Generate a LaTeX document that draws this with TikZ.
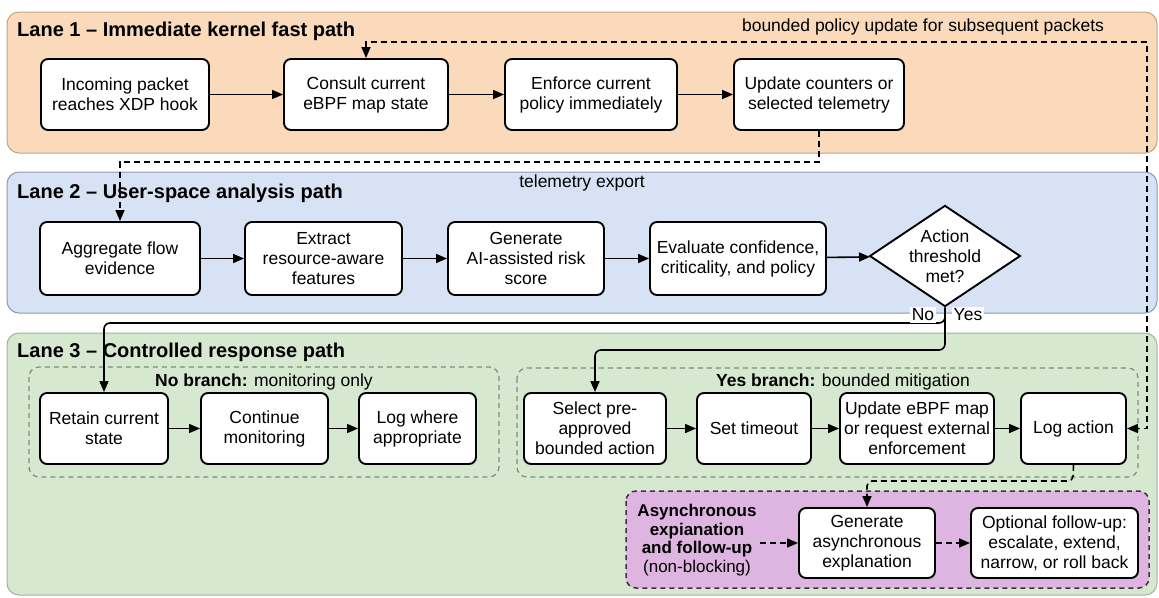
\documentclass[tikz,border=0pt]{standalone}
\usepackage{fontspec}
\setmainfont{Liberation Sans}
\usetikzlibrary{arrows.meta,shapes.geometric}
\definecolor{laneA}{RGB}{250,218,186}
\definecolor{laneAb}{RGB}{190,165,135}
\definecolor{laneB}{RGB}{215,227,244}
\definecolor{laneBb}{RGB}{140,155,180}
\definecolor{laneC}{RGB}{214,232,208}
\definecolor{laneCb}{RGB}{160,178,155}
\definecolor{grpgray}{RGB}{125,140,120}
\definecolor{asyfill}{RGB}{222,181,224}
\definecolor{asyborder}{RGB}{75,40,78}
\begin{document}
\begin{tikzpicture}[x=1pt,y=-1pt,
  box/.style={draw=black, line width=1.9pt, rounded corners=7pt, fill=white, align=center, inner sep=0pt, font=\fontsize{17.5}{20}\selectfont},
  wh/.style 2 args={minimum width=#1pt, minimum height=#2pt},
  conn/.style={line width=1.6pt, -{Triangle[length=11pt,width=9pt]}},
  dconn/.style={conn, dash pattern=on 6pt off 4pt},
  lane/.style={rounded corners=12pt, line width=1pt},
  grp/.style={rounded corners=10pt, dash pattern=on 5pt off 4pt, line width=1.2pt, draw=grpgray},
  ttl/.style={anchor=west, font=\fontsize{20}{24}\selectfont\bfseries, inner sep=0pt},
  lbl/.style={font=\fontsize{17.5}{20}\selectfont, inner sep=0pt}
]
\useasboundingbox (0,0) rectangle (1159,597);

% lanes
\draw[lane, fill=laneA, draw=laneAb] (7,12) rectangle (1157,153);
\draw[lane, fill=laneB, draw=laneBb] (7,172) rectangle (1157,313);
\draw[lane, fill=laneC, draw=laneCb] (7,333) rectangle (1157,595);

% groups
\draw[grp] (29,367) rectangle (499,477);
\draw[grp] (517,368) rectangle (1138,477);
\draw[rounded corners=10pt, dash pattern=on 5pt off 4pt, line width=1.5pt, draw=asyborder, fill=asyfill] (626,491) rectangle (1149,588);

% titles
\node[ttl] (t1) at (17,31) {Lane 1 -- Immediate kernel fast path};
\node[ttl] (t2) at (17,193) {Lane 2 -- User-space analysis path};
\node[ttl] (t3) at (17,352) {Lane 3 -- Controlled response path};

\node[lbl] (fbl) at (923,27) {bounded policy update for subsequent packets};
\node[lbl] (tell) at (582,183) {telemetry export};
\node[lbl] (nol) at (264,382) {\textbf{No branch:} monitoring only};
\node[lbl] (yesl) at (843,382) {\textbf{Yes branch:} bounded mitigation};

% lane 1
\node[box, wh={168}{71}] (in1) at (125,94.5) {Incoming packet\\reaches XDP hook};
\node[box, wh={164}{71}] (cons) at (366,94.5) {Consult current\\eBPF map state};
\node[box, wh={172}{71}] (enf) at (591,94.5) {Enforce current\\policy immediately};
\node[box, wh={170}{71}] (upd) at (819,94.5) {Update counters or\\selected telemetry};

% lane 2
\node[box, wh={160}{73}] (agg) at (120,258.5) {Aggregate flow\\evidence};
\node[box, wh={157}{73}] (ext) at (323.5,258.5) {Extract\\resource-aware\\features};
\node[box, wh={156}{73}] (gen) at (526,258.5) {Generate\\AI-assisted risk\\score};
\node[box, wh={176}{73}] (eva) at (738,258.5) {Evaluate confidence,\\criticality, and policy};
\node[diamond, draw=black, line width=1.9pt, fill=white, align=center, inner sep=0pt, aspect=1.49, wh={143}{96}, font=\fontsize{17.5}{20}\selectfont] (dia) at (945,256) {Action\\threshold\\met?};

% lane 3
\node[box, wh={128}{71}] (ret) at (104,428.5) {Retain current\\state};
\node[box, wh={127}{71}] (cont) at (264.5,428.5) {Continue\\monitoring};
\node[box, wh={117}{71}] (logw) at (417.5,428.5) {Log where\\appropriate};
\node[box, wh={142}{71}] (sel) at (595,428.5) {Select pre-\\approved\\bounded action};
\node[box, wh={114}{71}] (setto) at (754,428.5) {Set timeout};
\node[box, wh={154}{71}] (upe) at (917,428.5) {Update eBPF map\\or request external\\enforcement};
\node[box, wh={105}{71}] (loga) at (1073.5,428.5) {Log action};

% async
\node[align=center, inner sep=3pt, font=\fontsize{17}{18.8}\selectfont] (asy) at (697,540) {\textbf{Asynchronous}\\\textbf{expianation}\\\textbf{and follow-up}\\(non-blocking)};
\node[box, wh={136}{70}] (gena) at (867,543) {Generate\\asynchronous\\explanation};
\node[box, wh={167}{70}] (opt) at (1054.5,543) {Optional follow-up:\\escalate, extend,\\narrow, or roll back};

% connectors lane 1
\draw[conn] (in1) -- (cons);
\draw[conn] (cons) -- (enf);
\draw[conn] (enf) -- (upd);

% feedback
\coordinate (fbc) at (1147,42);
\draw[dconn, {Triangle[length=11pt,width=9pt]}-{Triangle[length=11pt,width=9pt]}] (cons.north) |- (fbc) |- (loga.east);

% telemetry export
\coordinate (telc) at (0,162);
\draw[dconn] (upd.south) -- (upd.south |- telc) -| (agg.north);

% lane 2
\draw[conn] (agg) -- (ext);
\draw[conn] (ext) -- (gen);
\draw[conn] (gen) -- (eva);
\draw[conn] (eva) -- (dia);

% branches
\coordinate (nob) at (945,323);
\draw[conn, rounded corners=6pt] (dia.south) -- (945,350) -| (sel.north);
\draw[conn, rounded corners=6pt] (dia.south) -- (nob) -| (ret.north);
\node[lbl, fill=white, inner sep=1.5pt] (nolab) at (923,315) {No};
\node[lbl, fill=white, inner sep=1.5pt] (yeslab) at (968,315) {Yes};

% lane 3
\draw[conn] (ret) -- (cont);
\draw[conn] (cont) -- (logw);
\draw[conn] (sel) -- (setto);
\draw[conn] (setto) -- (upe);
\draw[conn] (upe) -- (loga);

% to async
\draw[dconn, rounded corners=5pt] (loga.south) -- (1073,481) -| (gena.north);
\draw[dconn] (asy.east |- gena.west) -- (gena.west);
\draw[dconn] (gena) -- (opt);
\end{tikzpicture}
\end{document}
